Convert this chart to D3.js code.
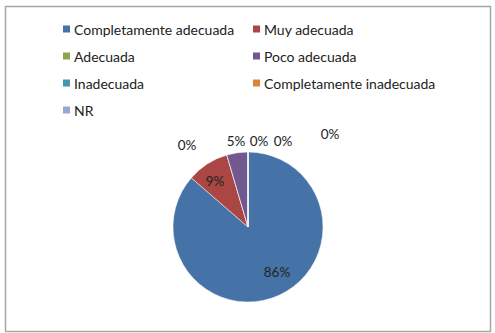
<!DOCTYPE html>
<html><head><meta charset="utf-8">
<script src="https://cdn.jsdelivr.net/npm/d3@7"></script>
<style>body{margin:0;background:#fff}</style>
</head><body>
<svg id="c" width="495" height="333"></svg>
<script>
const categories = ["Completamente adecuada","Muy adecuada","Adecuada","Poco adecuada","Inadecuada","Completamente inadecuada","NR"];
const values = [19, 2, 0, 1, 0, 0, 0];
const labels = ["86%","9%","0%","5%","0%","0%","0%"];
const colors = ["#4572A7","#AA4643","#89A54E","#71588F","#4198AF","#DB843D","#93A9CF"];

const svg = d3.select("#c");
const font = "Lato, 'Open Sans', sans-serif";
svg.append("rect").attr("x",5.5).attr("y",6.5).attr("width",485).attr("height",325)
  .attr("fill","#fff").attr("stroke","#a6a6a6").attr("stroke-width",1.5);

const cx = 248, cy = 227, r = 75;
const pie = d3.pie().sort(null).value(d=>d);
const arcs = pie(values);
const arc = d3.arc().innerRadius(0).outerRadius(r);
const g = svg.append("g").attr("transform",`translate(${cx},${cy})`);
g.selectAll("path").data(arcs).join("path")
  .attr("d",arc).attr("fill",(d,i)=>colors[i]).attr("stroke","#fff").attr("stroke-width",0.5);

const labelPos = [[29,45],[-33,-46],[-61,-82],[-12,-86],[11,-86],[35,-86],[82,-93]];
g.selectAll("text.l").data(labels).join("text").attr("class","l")
  .attr("x",(d,i)=>labelPos[i][0]).attr("y",(d,i)=>labelPos[i][1])
  .attr("text-anchor","middle").attr("dominant-baseline","central")
  .attr("font-family",font).attr("font-size",13.5).attr("fill","#222")
  .text(d=>d);

const lx = [63, 253], ly = [29, 56, 83, 110];
const leg = svg.append("g");
categories.forEach((c,i)=>{
  const x = lx[i%2], y = ly[Math.floor(i/2)];
  leg.append("rect").attr("x",x).attr("y",y-3.5).attr("width",7).attr("height",7).attr("fill",colors[i]);
  leg.append("text").attr("x",x+11).attr("y",y).attr("dominant-baseline","central")
    .attr("font-family",font).attr("font-size",14).attr("fill","#222").text(c);
});
</script>
</body></html>
